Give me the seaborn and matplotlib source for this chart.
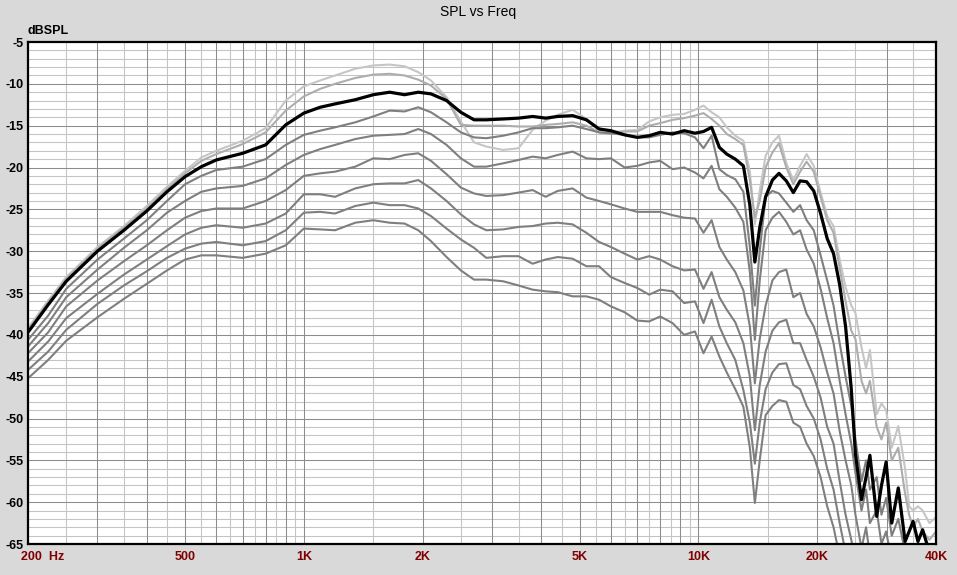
import matplotlib
matplotlib.use('Agg')
import matplotlib.pyplot as plt
import matplotlib.transforms as mtransforms
import seaborn as sns

# frequency points (Hz)
freq = [200, 225, 250, 300, 350, 400, 450, 500, 550, 600,
        700, 800, 900, 1000, 1100, 1200, 1350, 1500, 1650, 1800,
        1950, 2100, 2300, 2500, 2700, 2900, 3200, 3500, 3800, 4100,
        4400, 4800, 5200, 5600, 6000, 6500, 7000, 7500, 8000, 8600,
        9200, 9800, 10300, 10800, 11300, 11800, 12400, 13000, 13500, 13900,
        14300, 14800, 15400, 16000, 16700, 17400, 18100, 18800, 19600, 20400,
        21200, 22000,
        22800, 23600, 24400, 25000, 25900, 26600, 27200, 28300, 29100, 29900,
        30900, 32100, 33400, 34200, 35000, 36000, 37000, 38500, 40000]

spl_light1 = [-39.2, -35.9, -33.1, -29.5, -27.0, -24.6, -22.3, -20.4, -18.8, -18.0,
              -16.8, -15.3, -12.0, -10.3, -9.6, -9.0, -8.2, -7.8, -7.7, -7.9,
              -8.6, -9.6, -11.6, -14.5, -17.0, -17.5, -17.9, -17.7, -15.5, -14.4,
              -13.7, -13.1, -14.2, -15.3, -15.8, -15.6, -15.5, -14.5, -14.0, -13.7,
              -13.6, -13.1, -12.6, -13.4, -14.0, -15.2, -16.2, -16.8, -20.5, -26.8,
              -22.8, -18.6, -17.0, -16.2, -19.5, -21.5, -19.8, -18.4, -19.8, -23.0,
              -25.8, -27.0,
              -31.0, -34.3, -36.5, -37.4, -41.5, -44.0, -41.8, -49.5, -48.2, -49.0,
              -53.5, -50.9, -56.0, -60.5, -61.0, -60.5, -61.0, -62.5, -61.8]

spl_light2 = [-39.4, -36.1, -33.3, -29.7, -27.2, -24.9, -22.6, -20.7, -19.2, -18.4,
              -17.2, -15.8, -13.2, -11.5, -10.6, -10.0, -9.3, -8.9, -8.8, -9.0,
              -9.5, -10.2, -11.8, -14.9, -15.0, -15.0, -15.0, -15.1, -15.1, -14.9,
              -14.8, -14.6, -15.0, -15.8, -16.0, -15.7, -15.7, -15.0, -14.7, -14.3,
              -14.1, -13.8, -13.5, -14.2, -15.0, -16.0, -16.6, -17.3, -21.5, -26.0,
              -24.0, -20.0, -18.2, -17.1, -20.0, -22.0, -20.5, -19.3, -20.5, -23.5,
              -26.3, -27.8,
              -32.0, -36.0, -39.5, -40.5, -45.5, -47.0, -45.5, -51.0, -52.5, -50.5,
              -55.0, -53.5, -59.0, -61.5, -63.0, -62.0, -63.5, -64.5, -63.5]

spl_main = [-39.7, -36.4, -33.6, -30.0, -27.5, -25.2, -22.9, -21.1, -19.9, -19.1,
            -18.3, -17.3, -14.9, -13.5, -12.8, -12.4, -11.9, -11.3, -11.0, -11.3,
            -11.0, -11.2, -12.0, -13.4, -14.3, -14.3, -14.2, -14.1, -13.9, -14.1,
            -13.9, -13.8, -14.3, -15.4, -15.6, -16.1, -16.4, -16.2, -15.8, -16.0,
            -15.6, -15.9, -15.7, -15.2, -17.6, -18.4, -19.0, -19.8, -24.5, -31.3,
            -27.2, -23.5, -21.5, -20.7, -21.6, -23.0, -21.6, -21.7, -22.8, -25.5,
            -28.5, -30.3,
            -34.0, -39.0, -46.5, -54.3, -59.7, -57.0, -54.4, -61.7, -58.0, -55.2,
            -62.5, -58.3, -64.7, -63.5, -62.3, -64.7, -63.3, -66.0, -66.0]

spl_off1 = [-40.6, -37.7, -34.5, -31.0, -28.5, -26.3, -24.0, -22.0, -21.0, -20.3,
            -19.9, -19.0, -17.3, -16.1, -15.6, -15.2, -14.6, -13.9, -13.2, -13.3,
            -12.8, -13.4, -14.6, -15.8, -16.4, -16.5, -16.2, -15.8, -15.3, -15.3,
            -15.2, -15.0, -15.4, -15.8, -15.9, -16.1, -16.4, -16.4, -16.1, -15.8,
            -15.9, -16.4, -17.7, -16.2, -20.2, -20.9, -21.4, -22.9, -29.5, -36.5,
            -30.0, -23.5, -22.8, -23.1, -24.2, -25.3, -24.5, -26.3, -27.5, -30.5,
            -33.5, -36.5,
            -41.0, -45.0, -48.5, -52.5, -57.5, -55.0, -58.5, -57.0, -61.5, -59.5,
            -64.0, -62.0, -66.0, -70.0, -70.0, -70.0, -70.0, -70.0, -70.0]

spl_off2 = [-41.4, -38.6, -35.5, -32.2, -29.6, -27.5, -25.4, -24.0, -22.9, -22.5,
            -22.2, -21.3, -19.7, -18.5, -17.8, -17.3, -16.6, -16.2, -16.1, -16.0,
            -15.4, -16.0, -17.3, -18.9, -19.9, -19.9, -19.5, -19.1, -18.7, -18.9,
            -18.5, -18.1, -18.9, -19.0, -18.9, -20.0, -19.8, -19.4, -19.2, -20.2,
            -20.0, -20.6, -21.3, -19.8, -22.6, -23.5, -24.8, -26.5, -32.5, -40.6,
            -33.5, -27.5, -26.0, -25.3, -26.5, -28.0, -27.5, -29.8, -31.5, -34.5,
            -38.0, -41.0,
            -45.5, -49.5, -53.0, -56.5, -61.0, -58.5, -62.5, -61.0, -65.0, -63.5,
            -67.0, -70.0, -70.0, -70.0, -70.0, -70.0, -70.0, -70.0, -70.0]

spl_off3 = [-42.2, -39.7, -36.6, -33.5, -31.2, -29.3, -27.5, -26.0, -25.2, -24.9,
            -24.9, -24.0, -22.7, -21.0, -20.7, -20.5, -19.9, -18.9, -19.0, -18.5,
            -18.3, -19.2, -20.8, -22.4, -23.1, -23.4, -23.3, -23.0, -22.7, -23.5,
            -22.8, -22.5, -23.6, -24.0, -24.4, -24.9, -25.3, -25.3, -25.3, -25.7,
            -26.0, -26.1, -27.8, -26.3, -29.5, -31.0, -32.5, -34.7, -39.0, -45.8,
            -40.5, -36.5, -33.5, -32.5, -32.2, -35.5, -35.0, -37.5, -39.0, -41.5,
            -44.5, -47.0,
            -51.5, -55.0, -58.0, -61.5, -65.5, -63.0, -66.5, -70.0, -70.0, -70.0,
            -70.0, -70.0, -70.0, -70.0, -70.0, -70.0, -70.0, -70.0, -70.0]

spl_off4 = [-43.2, -40.8, -38.0, -35.1, -32.8, -31.0, -29.4, -28.0, -27.2, -26.9,
            -27.2, -26.7, -25.5, -23.2, -23.2, -23.5, -22.5, -22.0, -21.9, -21.9,
            -21.5, -22.5, -24.0, -25.6, -26.8, -27.5, -27.4, -27.1, -27.0, -26.7,
            -26.6, -26.8, -27.8, -28.9, -29.5, -30.3, -31.0, -30.6, -31.0, -31.8,
            -32.3, -32.2, -34.5, -32.5, -35.5, -37.0, -38.5, -41.0, -45.0, -51.4,
            -46.0, -42.0, -39.5, -38.5, -38.2, -41.0, -41.0, -43.0, -45.0, -47.5,
            -51.0, -53.0,
            -57.5, -61.5, -64.5, -67.0, -70.0, -70.0, -70.0, -70.0, -70.0, -70.0,
            -70.0, -70.0, -70.0, -70.0, -70.0, -70.0, -70.0, -70.0, -70.0]

spl_off5 = [-44.2, -42.0, -39.4, -36.3, -34.1, -32.4, -30.8, -29.7, -29.1, -28.9,
            -29.3, -28.8, -27.5, -25.4, -25.3, -25.5, -24.6, -24.2, -24.5, -24.5,
            -24.9, -25.8, -27.3, -28.6, -29.6, -30.8, -30.6, -30.6, -31.5, -31.0,
            -30.7, -30.9, -31.8, -31.8, -33.1, -33.8, -34.4, -35.2, -34.6, -34.8,
            -36.2, -36.0, -38.6, -35.8, -39.0, -41.0, -43.0, -46.6, -50.5, -55.4,
            -50.5, -46.5, -44.5, -43.5, -43.4, -46.0, -46.5, -48.5, -50.0, -52.5,
            -56.0, -58.5,
            -62.5, -66.0, -70.0, -70.0, -70.0, -70.0, -70.0, -70.0, -70.0, -70.0,
            -70.0, -70.0, -70.0, -70.0, -70.0, -70.0, -70.0, -70.0, -70.0]

spl_off6 = [-45.2, -43.0, -40.7, -37.9, -35.7, -33.9, -32.3, -31.0, -30.5, -30.5,
            -30.8, -30.3, -29.3, -27.3, -27.4, -27.5, -26.6, -26.3, -26.6, -26.7,
            -27.5, -28.8, -30.7, -32.3, -33.4, -33.4, -33.6, -34.1, -34.6, -34.8,
            -34.9, -35.4, -35.4, -35.8, -36.6, -37.3, -38.3, -38.4, -37.8, -38.6,
            -40.0, -39.6, -42.2, -40.2, -42.6, -44.5, -46.5, -48.6, -53.5, -60.1,
            -55.0, -49.6, -48.5, -47.8, -48.0, -50.5, -51.0, -53.0, -54.5, -57.0,
            -60.5, -63.0,
            -66.5, -70.0, -70.0, -70.0, -70.0, -70.0, -70.0, -70.0, -70.0, -70.0,
            -70.0, -70.0, -70.0, -70.0, -70.0, -70.0, -70.0, -70.0, -70.0]

x_ticks = [200, 500, 1000, 2000, 5000, 10000, 20000, 40000]
x_labels = ['200  Hz', '500', '1K', '2K', '5K', '10K', '20K', '40K']
y_ticks = [-65, -60, -55, -50, -45, -40, -35, -30, -25, -20, -15, -10, -5]

# drawing order: light, off-axis grays, then main (black) on top
curves = [
    (spl_light1, '#c6c6c6', 1.5),
    (spl_light2, '#adadad', 1.5),
    (spl_off6, '#7f7f7f', 1.5),
    (spl_off5, '#7f7f7f', 1.5),
    (spl_off4, '#7f7f7f', 1.5),
    (spl_off3, '#7f7f7f', 1.5),
    (spl_off2, '#7f7f7f', 1.5),
    (spl_off1, '#7f7f7f', 1.5),
    (spl_main, '#000000', 2.3),
]

sns.set_style('white')
plt.rcParams['font.family'] = ['Liberation Sans', 'DejaVu Sans']

fig = plt.figure(figsize=(9.57, 5.75), dpi=100, facecolor='#d9d9d9')
ax = fig.add_axes([28 / 957, 31 / 575, 908 / 957, 502 / 575])
ax.set_facecolor('white')
ax.set_xscale('log')

# grid: dark at 1..9 x decade, light at the half steps
for dec in (100, 1000, 10000):
    for k in range(1, 10):
        f_dark = k * dec
        f_light = (k + 0.5) * dec
        if 200 < f_dark < 40000:
            ax.axvline(f_dark, color='#8c8c8c', lw=0.75, zorder=1)
        if 200 < f_light < 40000:
            ax.axvline(f_light, color='#c4c4c4', lw=0.75, zorder=0.9)
for v in range(-64, -5):
    if v % 5 == 0:
        ax.axhline(v, color='#8c8c8c', lw=0.75, zorder=1)
    else:
        ax.axhline(v, color='#c4c4c4', lw=0.75, zorder=0.9)

for vals, col, lw in curves:
    sns.lineplot(x=freq, y=vals, ax=ax, color=col, lw=lw, legend=False,
                 zorder=3, estimator=None)

ax.set_xlim(200, 40000)
ax.set_ylim(-65, -5)
ax.set_xlabel('')
ax.set_ylabel('')

ax.set_xticks(x_ticks)
ax.set_xticklabels(x_labels)
ax.xaxis.set_minor_locator(matplotlib.ticker.NullLocator())
ax.set_yticks(y_ticks)
ax.set_yticklabels([str(v) for v in y_ticks])
ax.tick_params(axis='both', length=0)
ax.tick_params(axis='x', pad=5, labelsize=9, labelcolor='#800000')
ax.tick_params(axis='y', pad=3, labelsize=9, labelcolor='black')
for lab in ax.get_xticklabels() + ax.get_yticklabels():
    lab.set_fontweight('bold')

first = ax.get_xticklabels()[0]
first.set_horizontalalignment('left')
first.set_transform(first.get_transform() +
                    mtransforms.ScaledTranslation(-7 / 100, 0, fig.dpi_scale_trans))

for sp in ax.spines.values():
    sp.set_visible(True)
    sp.set_color('black')
    sp.set_linewidth(1.6)
    sp.set_zorder(5)

fig.text(0.5, 1 - 12 / 575, 'SPL vs Freq', ha='center', va='center',
         fontsize=10, color='black')
fig.text(28 / 957, 1 - 31 / 575, 'dBSPL', ha='left', va='center',
         fontsize=9, fontweight='bold', color='black')

fig.savefig('out.png', dpi=100, facecolor=fig.get_facecolor())
